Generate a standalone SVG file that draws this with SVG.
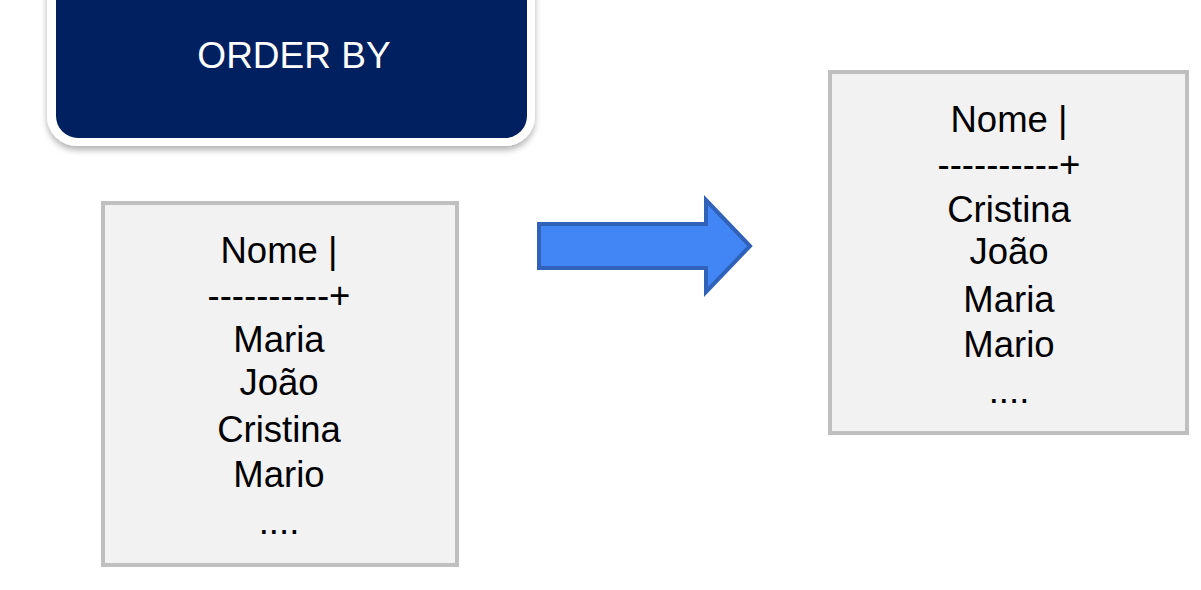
<svg xmlns="http://www.w3.org/2000/svg" width="1201" height="590" viewBox="0 0 1201 590">
<defs>
<style>
.box{fill:#F2F2F2;stroke:#BFBFBF;stroke-width:4}
.t{font-family:"Liberation Sans",Arial,sans-serif;font-size:36.5px;fill:#000;text-anchor:middle}
.title{font-family:"Liberation Sans",Arial,sans-serif;font-size:37px;fill:#FFFFFF;text-anchor:middle}
</style>
<filter id="sh" x="-10%" y="-20%" width="120%" height="150%">
<feDropShadow dx="0" dy="4" stdDeviation="3" flood-color="#000" flood-opacity="0.3"/>
</filter>
</defs>
<rect width="1201" height="590" fill="#FFFFFF"/>
<g id="title">
<rect x="47" y="-40" width="488" height="186" rx="30" fill="#FFFFFF" filter="url(#sh)"/>
<rect x="56" y="-40" width="471" height="178" rx="22" fill="#002060"/>
<text class="title" x="294" y="68">ORDER BY</text>
</g>
<g id="before">
<rect class="box" x="103" y="203" width="354" height="362"/>
<text class="t" x="279" y="263">Nome |</text>
<text class="t" x="279" y="308">----------+</text>
<text class="t" x="279" y="352">Maria</text>
<text class="t" x="279" y="395">João</text>
<text class="t" x="279" y="442">Cristina</text>
<text class="t" x="279" y="487">Mario</text>
<text class="t" x="279" y="534">....</text>
</g>
<g id="after">
<rect class="box" x="830" y="72" width="357" height="361"/>
<text class="t" x="1009" y="132">Nome |</text>
<text class="t" x="1009" y="177">----------+</text>
<text class="t" x="1009" y="222">Cristina</text>
<text class="t" x="1009" y="264">João</text>
<text class="t" x="1009" y="312">Maria</text>
<text class="t" x="1009" y="357">Mario</text>
<text class="t" x="1009" y="403">....</text>
</g>
<g id="connectors">
<path d="M539,224 L706,224 L706,200 L750,246 L706,292 L706,268 L539,268 Z" fill="#4285F4" stroke="#2F62B8" stroke-width="4" stroke-linejoin="miter"/>
</g>
</svg>
